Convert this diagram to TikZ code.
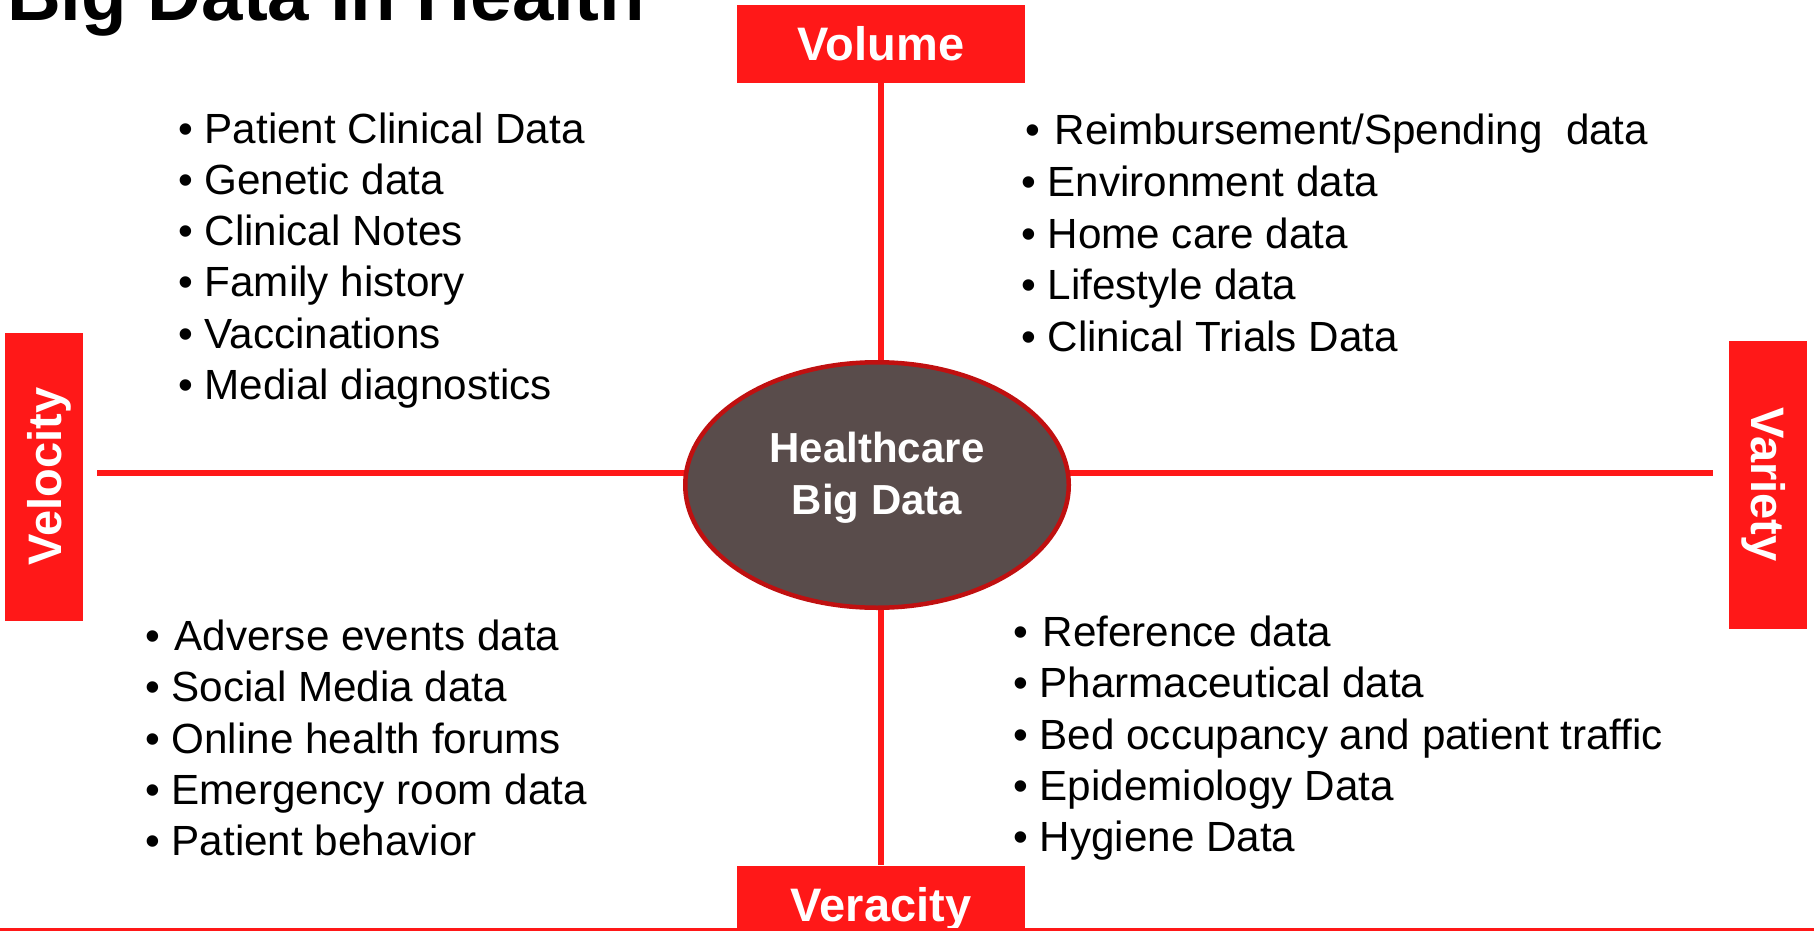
\documentclass[tikz,border=0pt]{standalone}
\usepackage{fontspec}
\setmainfont{Liberation Sans}
\usetikzlibrary{shapes.geometric}

\definecolor{vred}{RGB}{255,24,24}
\definecolor{corefill}{RGB}{89,76,75}
\definecolor{coreedge}{RGB}{192,16,16}

\tikzset{
  vbox/.style={fill=vred, text=white, inner sep=0pt,
    minimum width=288pt, minimum height=78pt,
    text height=34pt, text depth=0pt,
    font=\fontsize{47}{56}\selectfont\bfseries},
  axis/.style={vred, line width=6.5pt},
  item/.style={anchor=base west, inner sep=0pt, font=\fontsize{42.2}{50}\selectfont},
}

\begin{document}
\begin{tikzpicture}[x=1pt, y=-1pt]
\useasboundingbox (0,0) rectangle (1814,931);
\clip (0,0) rectangle (1814,931);
\node[anchor=base west, inner sep=0pt, font=\fontsize{74.5}{90}\selectfont\bfseries] (title) at (7,21) {Big Data in Health};
% the four V boxes
\node[vbox] (volume) at (881,44) {Volume};
\node[vbox] (veracity) at (881,904.5) {Veracity};
\node[vbox, rotate=90] (velocity) at (44,476.5) {Velocity};
\node[vbox, rotate=-90] (variety) at (1768,484.5) {Variety};
\coordinate (axisW) at (97,473);
\coordinate (axisE) at (1713,473);
\draw[axis] (volume.south) -- (veracity.north);
\draw[axis] (axisW) -- (axisE);
\draw[vred, line width=3pt] (0,929.5) -- (1814,929.5);
% centre
\node[ellipse, draw=coreedge, line width=4.5pt, fill=corefill, inner sep=0pt, minimum width=383.5pt, minimum height=245.5pt] (core) at (877,485) {};
\node[text=white, align=center, inner sep=0pt, font=\fontsize{42}{52}\selectfont\bfseries] (corelabel) at (877,478) {Healthcare\\Big Data};
% volume / velocity quadrant
\node[item] (pc) at (178,143) {• Patient Clinical Data};
\node[item] (gd) at (178,194.3) {• Genetic data};
\node[item] (cn) at (178,245.5) {• Clinical Notes};
\node[item] (fh) at (178,296.8) {• Family history};
\node[item] (vc) at (178,348) {• Vaccinations};
\node[item] (md) at (178,399.3) {• Medial diagnostics};
% volume / variety quadrant
\node[item] (rs) at (1025,145) {•\hspace{0.35em}Reimbursement/Spending\ \ data};
\node[item] (en) at (1021,196.5) {• Environment data};
\node[item] (hc) at (1021,248) {• Home care data};
\node[item] (ls) at (1021,299.5) {• Lifestyle data};
\node[item] (ct) at (1021,351) {• Clinical Trials Data};
% velocity / veracity quadrant
\node[item] (ae) at (145,650) {•\hspace{0.35em}Adverse events data};
\node[item] (sm) at (145,701.5) {• Social Media data};
\node[item] (oh) at (145,753) {• Online health forums};
\node[item] (er) at (145,804) {• Emergency room data};
\node[item] (pb) at (145,855) {• Patient behavior};
% variety / veracity quadrant
\node[item] (rd) at (1013,646) {•\hspace{0.35em}Reference data};
\node[item] (ph) at (1013,697.5) {• Pharmaceutical data};
\node[item] (bo) at (1013,749) {• Bed occupancy and patient traffic};
\node[item] (ep) at (1013,800) {• Epidemiology Data};
\node[item] (hy) at (1013,851) {• Hygiene Data};
\end{tikzpicture}
\end{document}
